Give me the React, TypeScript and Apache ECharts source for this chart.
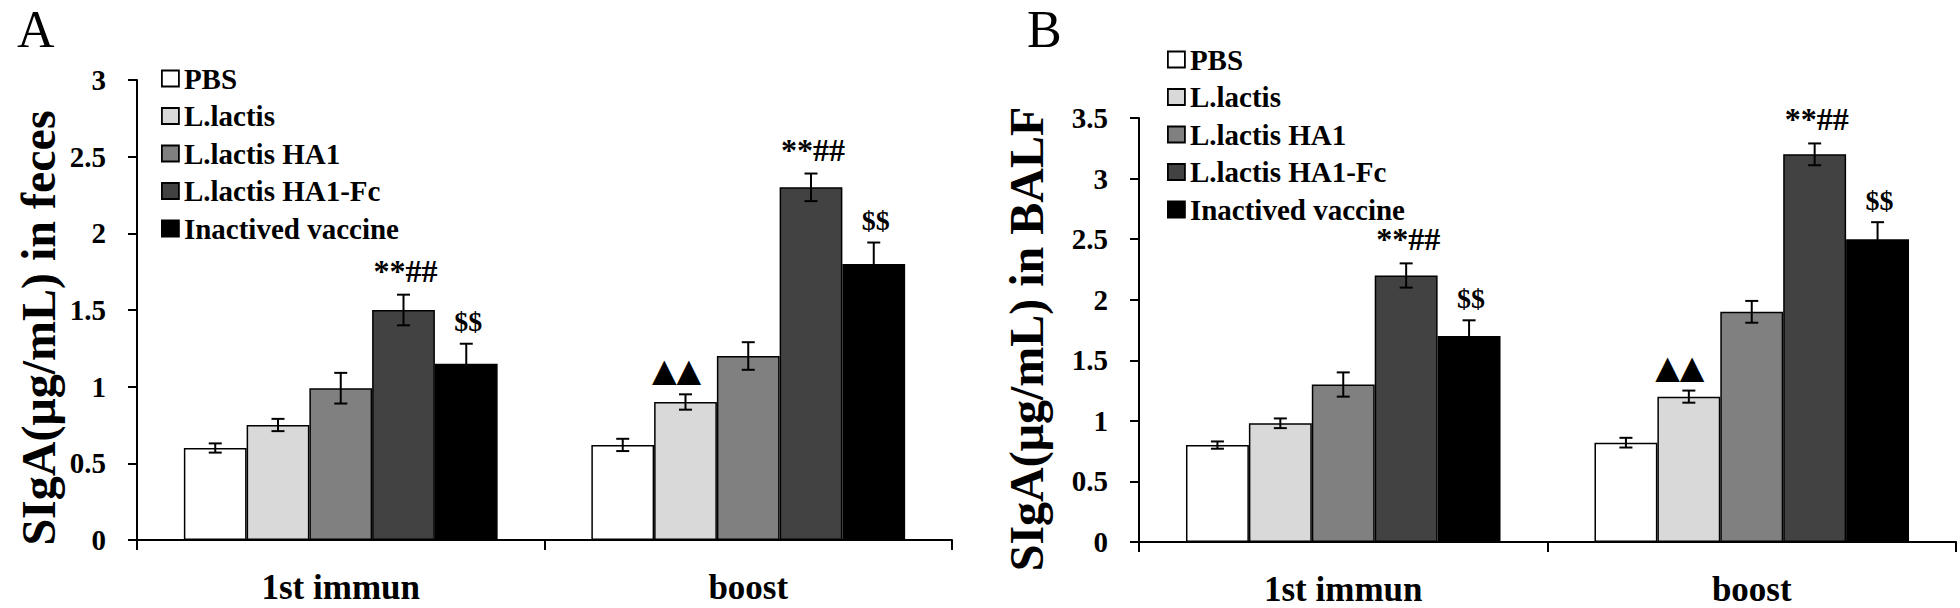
import React, { useEffect, useRef } from "react";
import * as echarts from "echarts";

const FONT = "'Liberation Serif', 'Times New Roman', serif";

const categories = ["1st immun", "boost"];
const groups = ["PBS", "L.lactis", "L.lactis HA1", "L.lactis HA1-Fc", "Inactived vaccine"];
const groupColors = ["#ffffff", "#d9d9d9", "#808080", "#424242", "#000000"];

// Panel A: SIgA (µg/mL) in feces, values per category [1st immun, boost]
const fecesPBS = [0.6, 0.62];
const fecesLactis = [0.75, 0.9];
const fecesHA1 = [0.99, 1.2];
const fecesHA1Fc = [1.5, 2.3];
const fecesInactived = [1.15, 1.8];
const fecesErrPBS = [0.03, 0.04];
const fecesErrLactis = [0.04, 0.05];
const fecesErrHA1 = [0.1, 0.09];
const fecesErrHA1Fc = [0.1, 0.09];
const fecesErrInactived = [0.13, 0.14];

// Panel B: SIgA (µg/mL) in BALF
const balfPBS = [0.8, 0.82];
const balfLactis = [0.98, 1.2];
const balfHA1 = [1.3, 1.9];
const balfHA1Fc = [2.2, 3.2];
const balfInactived = [1.7, 2.5];
const balfErrPBS = [0.03, 0.04];
const balfErrLactis = [0.04, 0.05];
const balfErrHA1 = [0.1, 0.09];
const balfErrHA1Fc = [0.1, 0.09];
const balfErrInactived = [0.13, 0.14];

// significance marks per group [1st immun, boost]
const markPBS = ["", ""];
const markLactis = ["", "▲▲"];
const markHA1 = ["", ""];
const markHA1Fc = ["**##", "**##"];
const markInactived = ["$$", "$$"];

const yTicksA = { min: 0, max: 3, interval: 0.5 };
const yTicksB = { min: 0, max: 3.5, interval: 0.5 };

const titleA = "SIgA(μg/mL) in feces";
const titleB = "SIgA(μg/mL) in BALF";

const BAR_CAT_GAP = 0.23;

const fecesValues = [fecesPBS, fecesLactis, fecesHA1, fecesHA1Fc, fecesInactived];
const fecesErrors = [fecesErrPBS, fecesErrLactis, fecesErrHA1, fecesErrHA1Fc, fecesErrInactived];
const balfValues = [balfPBS, balfLactis, balfHA1, balfHA1Fc, balfInactived];
const balfErrors = [balfErrPBS, balfErrLactis, balfErrHA1, balfErrHA1Fc, balfErrInactived];
const marks = [markPBS, markLactis, markHA1, markHA1Fc, markInactived];

function buildErrData(values: number[][], errors: number[][]) {
  const data: any[] = [];
  const labels: string[] = [];
  values.forEach((vals, g) => {
    vals.forEach((v, c) => {
      data.push([c, g, v, errors[g][c]]);
      labels.push(marks[g][c]);
    });
  });
  return { data, labels };
}

function makeRender(labels: string[]) {
  return (params: any, api: any) => {
    const c = api.value(0);
    const g = api.value(1);
    const v = api.value(2);
    const e = api.value(3);
    const band = api.size([1, 0])[0];
    const bw = (band * (1 - BAR_CAT_GAP)) / groups.length;
    const center = api.coord([c, 0]);
    const x = center[0] + (g - (groups.length - 1) / 2) * bw;
    const top = api.coord([c, v + e])[1];
    const bot = api.coord([c, v - e])[1];
    const hw = 6.5;
    const ls = { stroke: "#000", lineWidth: 2 };
    const children: any[] = [
      { type: "line", shape: { x1: x, y1: top, x2: x, y2: bot }, style: ls },
      { type: "line", shape: { x1: x - hw, y1: top, x2: x + hw, y2: top }, style: ls },
      { type: "line", shape: { x1: x - hw, y1: bot, x2: x + hw, y2: bot }, style: ls },
    ];
    const lab = labels[params.dataIndex];
    if (lab) {
      const isTri = lab.indexOf("▲") >= 0;
      children.push({
        type: "text",
        x: x + (isTri ? -9 : 2),
        y: top - 8,
        style: {
          text: lab,
          fill: "#000",
          font: isTri
            ? "32px 'DejaVu Sans', sans-serif"
            : `bold ${lab === "$$" ? 28 : 32}px ${FONT}`,
          align: "center",
          verticalAlign: "bottom",
        },
      });
    }
    return { type: "group", children };
  };
}

export default function App() {
  const ref = useRef<HTMLDivElement>(null);
  useEffect(() => {
    if (!ref.current) return;
    const chart = echarts.init(ref.current, undefined, { renderer: "svg" });
    const errA = buildErrData(fecesValues, fecesErrors);
    const errB = buildErrData(balfValues, balfErrors);

    const axisLine = { show: true, lineStyle: { color: "#000", width: 2 } };
    const makeX = (gridIndex: number) => ({
      type: "category",
      gridIndex,
      data: categories,
      axisLine,
      axisTick: { show: true, length: 10, lineStyle: { color: "#000", width: 2 } },
      axisLabel: {
        fontFamily: FONT,
        fontWeight: "bold",
        fontSize: 35,
        lineHeight: 28,
        color: "#000",
        margin: 33,
      },
      splitLine: { show: false },
    });
    const makeY = (gridIndex: number, ticks: any) => ({
      type: "value",
      gridIndex,
      ...ticks,
      axisLine,
      axisTick: { show: true, length: 9, lineStyle: { color: "#000", width: 2 } },
      axisLabel: { fontFamily: FONT, fontWeight: "bold", fontSize: 29, color: "#000", margin: 31 },
      splitLine: { show: false },
    });

    const barSeries = (gridIdx: number, values: number[][]) =>
      groups.map((name, g) => ({
        type: "bar",
        name,
        xAxisIndex: gridIdx,
        yAxisIndex: gridIdx,
        data: values[g],
        barGap: "0%",
        barCategoryGap: `${BAR_CAT_GAP * 100}%`,
        itemStyle: { color: groupColors[g], borderColor: "#000", borderWidth: 1.5 },
      }));

    const legendBase = {
      orient: "vertical",
      icon: "rect",
      itemWidth: 17,
      itemHeight: 16,
      itemGap: 8.5,
      selectedMode: false,
      textStyle: { fontFamily: FONT, fontWeight: "bold", fontSize: 29, lineHeight: 29, color: "#000" },
      itemStyle: { borderColor: "#000", borderWidth: 1.8 },
      data: groups,
    };

    const titleFont = `bold 48px ${FONT}`;
    const letterStyle = { fontFamily: FONT, fontWeight: "normal", fontSize: 52, lineHeight: 52, color: "#000" };

    chart.setOption({
      animation: false,
      backgroundColor: "#fff",
      title: [
        { text: "A", left: 17, top: 3, padding: 0, textStyle: letterStyle },
        { text: "B", left: 1027, top: 3, padding: 0, textStyle: letterStyle },
      ],
      graphic: [
        {
          type: "text",
          x: 38,
          y: 328,
          rotation: Math.PI / 2,
          style: { text: titleA, font: titleFont, fill: "#000", align: "center", verticalAlign: "middle" },
        },
        {
          type: "text",
          x: 1026,
          y: 339,
          rotation: Math.PI / 2,
          style: { text: titleB, font: titleFont, fill: "#000", align: "center", verticalAlign: "middle" },
        },
      ],
      legend: [
        { ...legendBase, left: 156, top: 59 },
        { ...legendBase, left: 1162, top: 40 },
      ],
      grid: [
        { left: 137, top: 80, width: 815, height: 460 },
        { left: 1139, top: 118, width: 817, height: 424 },
      ],
      xAxis: [makeX(0), makeX(1)],
      yAxis: [makeY(0, yTicksA), makeY(1, yTicksB)],
      series: [
        ...barSeries(0, fecesValues),
        ...barSeries(1, balfValues),
        {
          type: "custom",
          xAxisIndex: 0,
          yAxisIndex: 0,
          data: errA.data,
          renderItem: makeRender(errA.labels),
          z: 5,
        },
        {
          type: "custom",
          xAxisIndex: 1,
          yAxisIndex: 1,
          data: errB.data,
          renderItem: makeRender(errB.labels),
          z: 5,
        },
      ],
    });
    return () => chart.dispose();
  }, []);
  return (
    <div
      ref={ref}
      style={{ position: "fixed", left: 0, top: 0, width: 1960, height: 608, background: "#fff" }}
    />
  );
}
